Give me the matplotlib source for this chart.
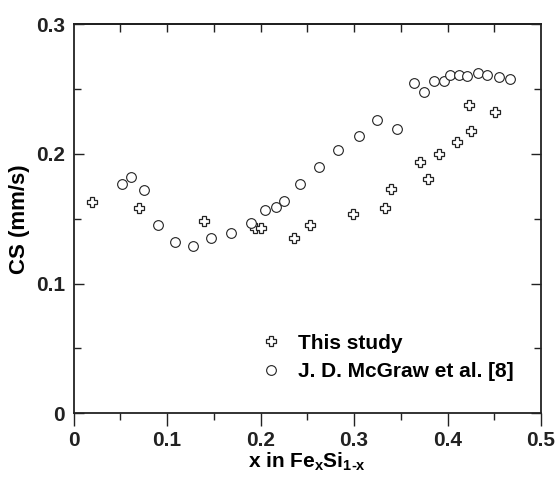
import matplotlib
matplotlib.use('Agg')
import matplotlib.pyplot as plt

plt.rcParams['font.family'] = ['Liberation Sans', 'DejaVu Sans']
plt.rcParams['font.weight'] = 'bold'
plt.rcParams['mathtext.fontset'] = 'custom'
plt.rcParams['mathtext.rm'] = 'Liberation Sans:bold'
plt.rcParams['mathtext.bf'] = 'Liberation Sans:bold'
plt.rcParams['mathtext.default'] = 'bf'

# This study (crosses)
x_this = [0.020, 0.070, 0.140, 0.194, 0.201, 0.236, 0.253, 0.299, 0.333, 0.340,
          0.371, 0.379, 0.391, 0.410, 0.423, 0.425, 0.451]
cs_this = [0.163, 0.158, 0.148, 0.143, 0.143, 0.135, 0.145, 0.154, 0.158, 0.173,
           0.194, 0.181, 0.200, 0.209, 0.238, 0.218, 0.232]

# J. D. McGraw et al. [8] (circles)
x_mcg = [0.052, 0.062, 0.075, 0.090, 0.109, 0.128, 0.147, 0.168, 0.190, 0.205,
         0.216, 0.225, 0.242, 0.263, 0.283, 0.305, 0.325, 0.346, 0.364, 0.375,
         0.385, 0.396, 0.403, 0.412, 0.421, 0.432, 0.442, 0.455, 0.467]
cs_mcg = [0.177, 0.182, 0.172, 0.145, 0.132, 0.129, 0.135, 0.139, 0.147, 0.157,
          0.159, 0.164, 0.177, 0.190, 0.203, 0.214, 0.226, 0.219, 0.255, 0.248,
          0.256, 0.256, 0.261, 0.261, 0.260, 0.262, 0.261, 0.259, 0.258]

ink = '#222222'

fig = plt.figure(figsize=(5.59, 4.8), dpi=100)
ax = fig.add_axes([0.1315, 0.139, 0.8365, 0.8106])

ax.plot(x_this, cs_this, linestyle='none', marker='P', markersize=6.8,
        markerfacecolor='white', markeredgecolor=ink, markeredgewidth=0.9,
        label='This study')
ax.plot(x_mcg, cs_mcg, linestyle='none', marker='o', markersize=7,
        markerfacecolor='white', markeredgecolor=ink, markeredgewidth=0.8,
        label='J. D. McGraw et al. [8]')

ax.set_xlim(0, 0.5)
ax.set_ylim(0, 0.3)
ax.set_xticks([0, 0.1, 0.2, 0.3, 0.4, 0.5])
ax.set_xticklabels(['0', '0.1', '0.2', '0.3', '0.4', '0.5'])
ax.set_xticks([0.05, 0.15, 0.25, 0.35, 0.45], minor=True)
ax.set_yticks([0, 0.1, 0.2, 0.3])
ax.set_yticklabels(['0', '0.1', '0.2', '0.3'])
ax.set_yticks([0.05, 0.15, 0.25], minor=True)

for s in ax.spines.values():
    s.set_linewidth(1.3)
    s.set_color(ink)

ax.tick_params(axis='x', which='major', direction='out', length=9, width=1,
               labelsize=15, pad=4, colors=ink)
ax.tick_params(axis='x', which='minor', direction='out', length=5, width=1, colors=ink)
ax.tick_params(axis='y', which='major', direction='in', length=7, width=1,
               labelsize=15, right=True, pad=6, colors=ink)
ax.tick_params(axis='y', which='minor', direction='in', length=5, width=1,
               right=True, colors=ink)

top = ax.secondary_xaxis('top')
top.set_xticks([0.1, 0.2, 0.3, 0.4])
top.set_xticks([0.05, 0.15, 0.25, 0.35, 0.45], minor=True)
top.tick_params(which='both', direction='in', length=6, width=1, labeltop=False, colors=ink)
top.spines['top'].set_linewidth(1.3)

ax.set_xlabel(r'x in Fe$_\mathbf{x}$Si$_\mathbf{1\text{-}x}$', fontsize=15,
              fontweight='bold', labelpad=0)
ax.set_ylabel('CS (mm/s)', fontsize=16, fontweight='bold', labelpad=4)

ax.legend(loc='lower left', bbox_to_anchor=(0.355, 0.035), frameon=False,
          handlelength=1.2, handletextpad=0.7, labelspacing=0.45,
          prop={'weight': 'bold', 'size': 15})

fig.savefig('out.png', dpi=100)
